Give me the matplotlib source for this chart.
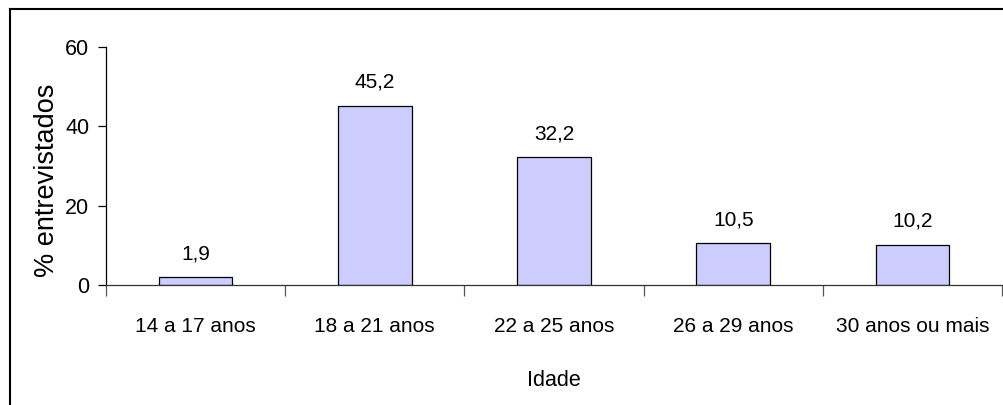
import matplotlib
matplotlib.use("Agg")
import matplotlib.pyplot as plt
from matplotlib.lines import Line2D

categories = ["14 a 17 anos", "18 a 21 anos", "22 a 25 anos", "26 a 29 anos", "30 anos ou mais"]
values = [1.9, 45.2, 32.2, 10.5, 10.2]
value_labels = ["1,9", "45,2", "32,2", "10,5", "10,2"]
y_ticks = [0, 20, 40, 60]

plt.rcParams["font.family"] = ["Liberation Sans", "DejaVu Sans"]

W, H = 1004, 405
fig = plt.figure(figsize=(W / 100, H / 100), dpi=100)
ax = fig.add_axes([106 / W, 1 - 285 / H, 896 / W, 238 / H])

x = list(range(len(categories)))
ax.bar(x, values, width=0.41, color="#CCCCFF", edgecolor="black", linewidth=0.9)

for xi, v, lab in zip(x, values, value_labels):
    ax.annotate(lab, (xi, v), xytext=(0, 13), textcoords="offset points",
                ha="center", va="baseline", fontsize=15)

ax.set_xlim(-0.5, len(categories) - 0.5)
ax.set_ylim(0, 60)
ax.set_yticks(y_ticks)
ax.set_yticklabels([str(t) for t in y_ticks], fontsize=15.5)
ax.tick_params(axis="y", length=6, width=0.9, pad=6, direction="out")

# tick marks sit on the category boundaries, labels at the centres
ax.set_xticks([i - 0.5 for i in range(len(categories) + 1)])
ax.set_xticklabels([])
ax.set_xticks(x, minor=True)
ax.set_xticklabels(categories, minor=True, fontsize=15)
ax.tick_params(axis="x", which="major", length=8, width=0.9, color="#555555", direction="out")
ax.tick_params(axis="x", which="minor", length=0, pad=23)

for side in ("top", "right"):
    ax.spines[side].set_visible(False)
ax.spines["left"].set_linewidth(0.9)
ax.spines["bottom"].set_linewidth(0.9)
ax.spines["bottom"].set_color("#333333")

# axis titles
fig.text(47.5 / W, 1 - 180 / H, "% entrevistados", rotation=90, ha="center", va="center",
         fontsize=19.5)
fig.text((106 + 448) / W, 1 - 386 / H, "Idade", ha="center", va="baseline", fontsize=15.5)

# outer frame (left and top edges)
fig.add_artist(Line2D([10 / W, 10 / W], [0, 1 - 8.5 / H], transform=fig.transFigure,
                      color="black", linewidth=1.5))
fig.add_artist(Line2D([10 / W, 1], [1 - 8.5 / H, 1 - 8.5 / H], transform=fig.transFigure,
                      color="black", linewidth=1.5))

fig.savefig("out.png", dpi=100)
